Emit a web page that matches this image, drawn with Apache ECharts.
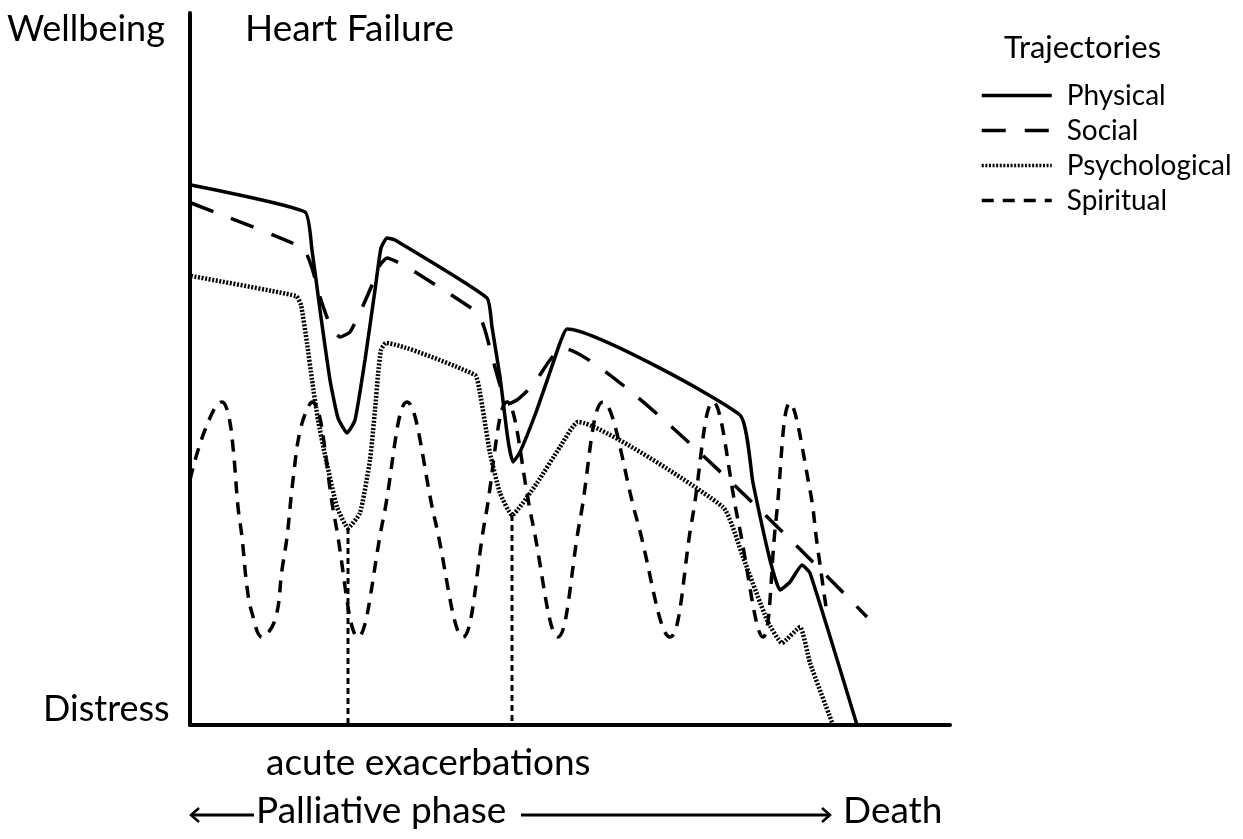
<!DOCTYPE html>
<html>
<head>
<meta charset="utf-8">
<title>Heart Failure trajectories</title>
<script src="https://cdn.jsdelivr.net/npm/echarts@6/dist/echarts.min.js"></script>
<style>
	html, body { margin: 0; padding: 0; background: #fff; }
	#trajChart { width: 1243px; height: 839px; }
</style>
</head>
<body>
<div id="trajChart"></div>
<script>
// time runs 0..760 along the palliative phase, wellbeing 0 (distress) .. 712
const physical = [[1,540],[115,513],[122,475],[130,415],[140,345],[148,307],[157,292],[165,305],[175,365],[185,435],[191,477],[197,487],[205,485],
	[297,427],[302,398],[310,348],[318,285],[323,263],[330,273],[345,310],[360,353],[370,382],[377,396],
	[550,310],[563,242],[580,165],[590,135],[600,143],[612,160],[620,152],[667,0]];
const social = [[1,522],[113,477],[122,457],[130,428],[140,400],[150,388],[160,393],[172,417],[182,440],[190,460],[197,467],[217,458],
	[288,412],[295,395],[303,365],[310,340],[318,321],[327,325],[343,340],[360,365],[372,377],[677,108]];
const psychological = [[1,449],[106,429],[111,420],[117,382],[122,345],[128,305],[135,270],[147,218],[158,197],[170,212],[180,265],[185,315],
	[188,350],[191,375],[196,382],[285,350],[290,332],[300,272],[310,232],[322,210],[347,242],[370,278],[388,303],
	[533,218],[553,168],[577,105],[592,82],[610,98],[620,62],[643,0]];
const spiritual = [[0,245],[15,295],[32,323],[38,312],[43,278],[48,218],[52,188],[57,138],[62,112],[72,88],[85,105],[92,155],[97,188],
	[103,245],[111,298],[122,323],[145,205],[168,88],[193,205],[217,323],[245,205],[273,88],
	[295,205],[317,323],[342,205],[368,88],[390,205],[413,323],[447,205],[480,88],[502,205],[523,323],[548,205],[573,88],
	[586,205],[600,322],[620,235],[627,182],[636,118]];
// acute exacerbations: [time, wellbeing where the marker starts]
const exacerbations = [[158,197],[322,210]];
const trajNames = ['Physical','Social','Psychological','Spiritual'];

let myChart = null;
const FONT = 'Lato';

function initChart(){
	myChart = echarts.init(document.getElementById('trajChart'));
	const lineSeries = function(name, data, style, smooth){
		return {
			name: name,
			type: 'line',
			data: data,
			symbol: 'none',
			smooth: smooth,
			silent: true,
			itemStyle: { color: '#000' },
			lineStyle: style
		};
	};
	const series = [
		lineSeries(trajNames[0], physical, { color: '#000', width: 3.5, type: 'solid' }, 0.15),
		lineSeries(trajNames[1], social, { color: '#000', width: 3.5, type: [24, 19] }, 0.15),
		lineSeries(trajNames[2], psychological, { color: '#000', width: 4.5, type: [2, 1.6] }, 0.15),
		lineSeries(trajNames[3], spiritual, { color: '#000', width: 3.5, type: [12, 9] }, 0.4)
	];
	// dashed markers down to the axis
	exacerbations.forEach(function(e, i){
		series.push(lineSeries('exacerbation' + i, [[e[0], e[1]], [e[0], 0]], { color: '#000', width: 3, type: [6, 4] }, false));
	});

	const txt = function(text, x, y, size){
		return { type: 'text', x: x, y: y, silent: true,
			style: { text: text, font: size + 'px ' + FONT, fill: '#000', textVerticalAlign: 'middle' } };
	};
	const option = {
		animation: false,
		backgroundColor: '#fff',
		title: {
			text: 'Trajectories',
			left: 999, top: 27,
			textStyle: { fontFamily: FONT, fontWeight: 'normal', fontSize: 31, color: '#000' }
		},
		legend: {
			data: trajNames,
			orient: 'vertical',
			left: 975, top: 75,
			itemWidth: 70, itemHeight: 14, itemGap: 4,
			selectedMode: false,
			itemStyle: { opacity: 0 },
			lineStyle: { width: 3.5 },
			textStyle: { fontFamily: FONT, fontSize: 28, color: '#000', lineHeight: 31, padding: [0, 0, 0, 10] }
		},
		grid: { left: 190, right: 293, top: 13, bottom: 114 },
		xAxis: {
			type: 'value', min: 0, max: 760,
			axisLine: { lineStyle: { color: '#000', width: 4 } },
			axisTick: { show: false }, axisLabel: { show: false }, splitLine: { show: false }
		},
		yAxis: {
			type: 'value', min: 0, max: 712,
			axisLine: { show: true, lineStyle: { color: '#000', width: 4 } },
			axisTick: { show: false }, axisLabel: { show: false }, splitLine: { show: false }
		},
		graphic: [
			txt('Wellbeing', 7, 29, 36),
			txt('Heart Failure', 245, 29, 37),
			txt('Distress', 43, 709, 36),
			txt('acute exacerbations', 266, 763, 37),
			txt('Palliative phase', 256, 811, 37),
			txt('Death', 843, 811, 37),
			// arrows
			{ type: 'polyline', silent: true, shape: { points: [[199, 808], [191, 815], [199, 822]] }, style: { stroke: '#000', lineWidth: 2.5, fill: null } },
			{ type: 'line', silent: true, shape: { x1: 191, y1: 815, x2: 254, y2: 815 }, style: { stroke: '#000', lineWidth: 3 } },
			{ type: 'line', silent: true, shape: { x1: 521, y1: 815, x2: 830, y2: 815 }, style: { stroke: '#000', lineWidth: 3 } },
			{ type: 'polyline', silent: true, shape: { points: [[822, 808], [830, 815], [822, 822]] }, style: { stroke: '#000', lineWidth: 2.5, fill: null } }
		],
		series: series
	};
	myChart.setOption(option);
}

initChart();
</script>
</body>
</html>
